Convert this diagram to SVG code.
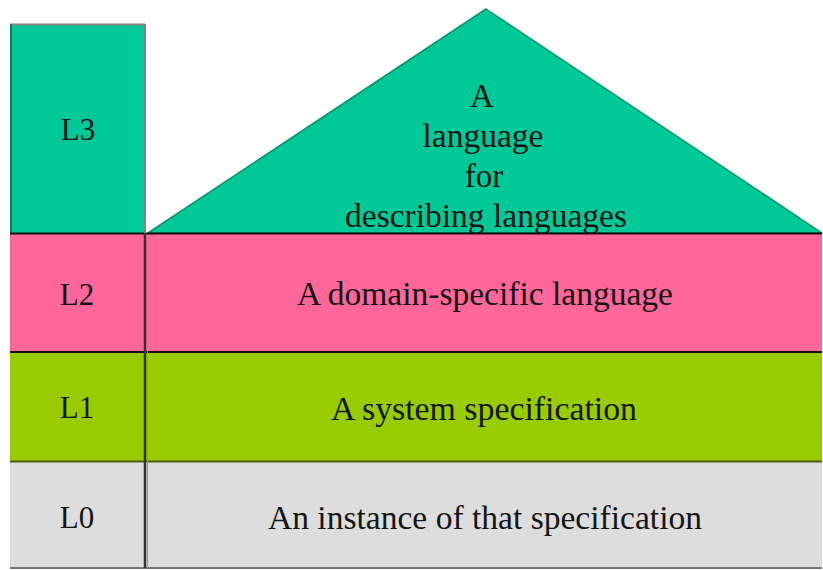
<svg xmlns="http://www.w3.org/2000/svg" width="823" height="570" viewBox="0 0 823 570">
<style>
text{font-family:'Liberation Serif','Times New Roman',serif;fill:#151515;text-anchor:middle}
.t{font-size:33px}
.lab{font-size:31px}
.teal{fill:#00C896}
.pink{fill:#FF6699}
.green{fill:#99CC00}
.gray{fill:#DDDDDD}
</style>
<rect width="823" height="570" fill="#ffffff"/>
<g id="L3">
<rect class="teal" x="10" y="24" width="135" height="209"/>
<line x1="10" y1="24.5" x2="145" y2="24.5" stroke="#8a8080" stroke-width="2"/>
<line x1="11" y1="24" x2="11" y2="233" stroke="#0a7a5a" stroke-width="2"/>
<text class="lab" x="78" y="140">L3</text>
</g>
<g id="L2">
<rect class="pink" x="10" y="233" width="135" height="119"/>
<text class="lab" x="77" y="305">L2</text>
</g>
<g id="L1">
<rect class="green" x="10" y="352" width="135" height="110"/>
<text class="lab" x="77" y="418">L1</text>
</g>
<g id="L0">
<rect class="gray" x="10" y="462" width="135" height="106"/>
<text class="lab" x="77" y="528">L0</text>
</g>
<g id="metalanguage">
<polygon class="teal" points="486,9 148,233 822,233" stroke="#08946e" stroke-width="1.5" stroke-linejoin="round"/>
<text class="t" x="482" y="107">A</text>
<text class="t" x="483" y="147" textLength="121" lengthAdjust="spacingAndGlyphs">language</text>
<text class="t" x="484" y="187">for</text>
<text class="t" x="486" y="227" textLength="282" lengthAdjust="spacingAndGlyphs">describing languages</text>
</g>
<g id="dsl">
<rect class="pink" x="146" y="233" width="676" height="119"/>
<text class="t" x="485" y="305" textLength="376" lengthAdjust="spacingAndGlyphs">A domain-specific language</text>
</g>
<g id="system">
<rect class="green" x="146" y="352" width="676" height="110"/>
<text class="t" x="484" y="420" textLength="306" lengthAdjust="spacingAndGlyphs">A system specification</text>
</g>
<g id="instance">
<rect class="gray" x="146" y="462" width="676" height="106"/>
<text class="t" x="485" y="529" textLength="434" lengthAdjust="spacingAndGlyphs">An instance of that specification</text>
</g>
<g id="connectors" fill="none">
<line x1="10" y1="233.5" x2="822" y2="233.5" stroke="#111" stroke-width="2"/>
<line x1="10" y1="352" x2="822" y2="352" stroke="#111" stroke-width="2"/>
<line x1="10" y1="461.5" x2="822" y2="461.5" stroke="#4e5c10" stroke-width="2"/>
<line x1="10" y1="568" x2="822" y2="568" stroke="#777" stroke-width="2"/>
<line x1="145" y1="24" x2="145" y2="233" stroke="#8a8080" stroke-width="2"/>
<line x1="145" y1="233" x2="145" y2="568" stroke="#333" stroke-width="2.5"/>
<line x1="147.5" y1="236" x2="147.5" y2="568" stroke="#999" stroke-width="1"/>
</g>
</svg>
